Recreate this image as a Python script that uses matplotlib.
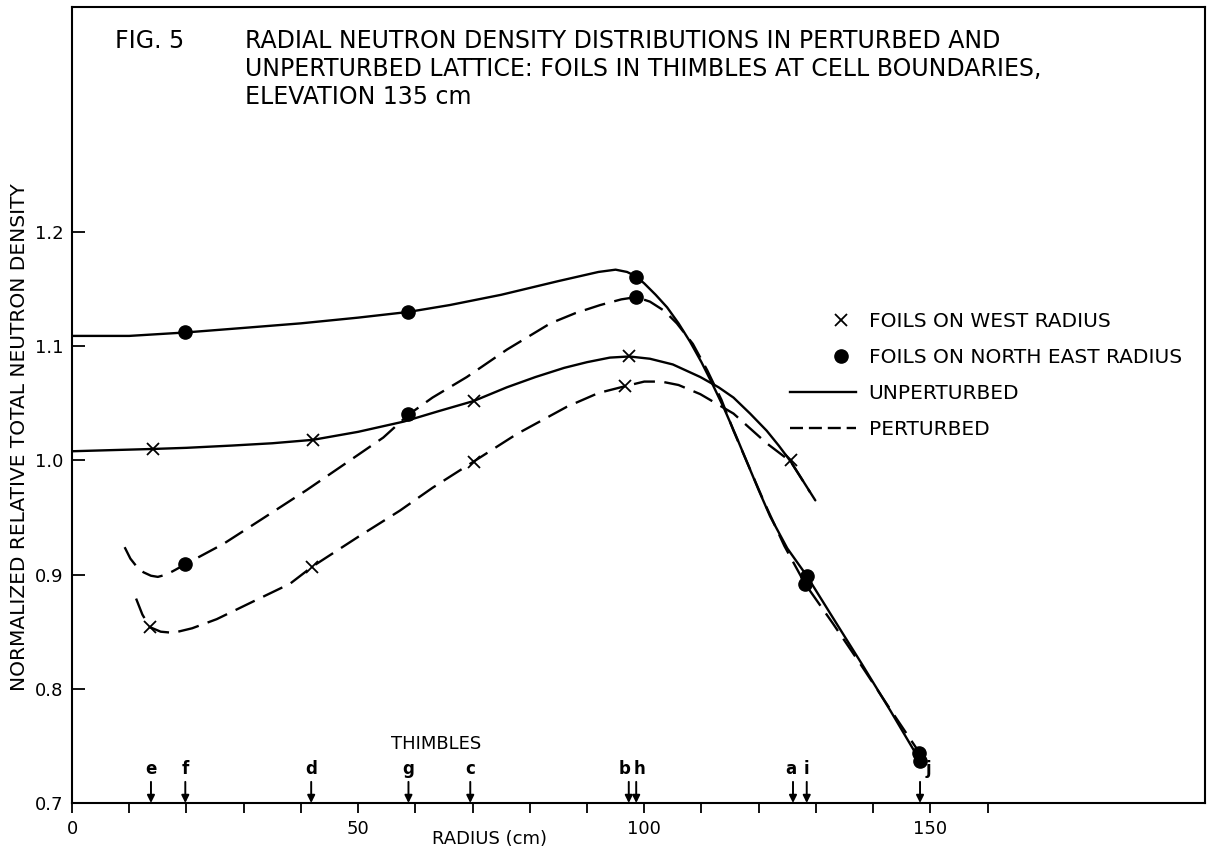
import matplotlib
matplotlib.use("Agg")
import matplotlib.pyplot as plt
from matplotlib.lines import Line2D
from matplotlib.legend_handler import HandlerLine2D

plt.rcParams['font.family'] = ['DejaVu Sans']

# ---------------- data ----------------
# Thimble positions (cm) and labels
thimble_labels = ['e', 'f', 'd', 'g', 'c', 'b', 'h', 'a', 'i', 'j']
thimble_x = [13.8, 19.8, 41.8, 58.8, 69.6, 97.3, 98.6, 126.0, 128.4, 148.2]
thimble_label_dx = [0, 0, 0, 0, 0, -0.8, 0.6, -0.4, 0, 1.4]

# Measured foils: north-east radius (dots)
ne_unpert_x = [19.8, 58.8, 98.6, 128.4, 148.2]
ne_unpert_y = [1.112, 1.130, 1.161, 0.899, 0.737]
ne_pert_x = [19.8, 58.8, 98.6, 128.1, 148.1]
ne_pert_y = [0.909, 1.041, 1.143, 0.892, 0.744]

# Measured foils: west radius (crosses)
w_unpert_x = [14.1, 42.1, 70.2, 97.4, 125.6]
w_unpert_y = [1.010, 1.018, 1.052, 1.091, 1.000]
w_pert_x = [13.6, 42.0, 70.2, 96.7]
w_pert_y = [0.854, 0.907, 0.999, 1.065]

# Hand-drawn curves
c_ne_unpert_x = [0, 10, 19.8, 30, 40, 50, 58.8, 66, 75, 85, 92, 95, 97, 98.6, 100,
                 102, 104, 106, 108, 110, 112, 114, 116, 118, 120, 122, 125, 128.4,
                 133, 138, 143, 148.2]
c_ne_unpert_y = [1.109, 1.109, 1.112, 1.116, 1.120, 1.125, 1.130, 1.136, 1.145, 1.157,
                 1.165, 1.167, 1.165, 1.161, 1.155, 1.145, 1.134, 1.120, 1.104, 1.086,
                 1.066, 1.045, 1.022, 0.998, 0.974, 0.951, 0.923, 0.899,
                 0.862, 0.822, 0.781, 0.737]

c_ne_pert_x = [9.2, 10.2, 11.3, 12.5, 13.8, 15.0, 16.5, 18.0, 19.8, 26.5, 33, 41, 48,
               54.4, 58.8, 63, 69, 76, 83.6, 88, 92.3, 96, 98.6, 101, 103.5, 105.7,
               108.5, 111, 113.5, 115.6, 118, 121, 124.5, 128.1, 133, 138, 143, 148.1]
c_ne_pert_y = [0.924, 0.914, 0.907, 0.902, 0.899, 0.898, 0.900, 0.904, 0.909, 0.927,
               0.948, 0.974, 0.998, 1.020, 1.040, 1.055, 1.073, 1.097, 1.120, 1.129,
               1.136, 1.141, 1.143, 1.139, 1.131, 1.120, 1.102, 1.079, 1.053, 1.026,
               0.998, 0.963, 0.925, 0.892, 0.857, 0.820, 0.782, 0.744]

c_w_unpert_x = [0, 7, 14.1, 20, 28, 35, 42.1, 50, 58, 64, 70.2, 76, 81, 86, 90, 94,
                97.4, 101, 105, 109.8, 113, 115.6, 118.5, 121.4, 123.5, 125.6, 127.5, 129.9]
c_w_unpert_y = [1.008, 1.009, 1.010, 1.011, 1.013, 1.015, 1.018, 1.025, 1.034, 1.043,
                1.052, 1.064, 1.073, 1.081, 1.086, 1.090, 1.091, 1.089, 1.084, 1.073,
                1.064, 1.055, 1.041, 1.026, 1.013, 0.999, 0.984, 0.965]

c_w_pert_x = [11.2, 12.3, 13.6, 15.5, 17.7, 21, 25.3, 32.3, 38.1, 42.0, 50, 57.3, 63,
              70.2, 77.7, 86.5, 92, 96.7, 100, 103, 106, 109.8, 115.6, 121.4, 125.6, 129.0]
c_w_pert_y = [0.879, 0.865, 0.854, 0.850, 0.849, 0.853, 0.861, 0.878, 0.892, 0.907,
              0.933, 0.956, 0.976, 0.999, 1.023, 1.047, 1.059, 1.065, 1.069, 1.069,
              1.066, 1.058, 1.041, 1.015, 0.999, 0.972]

x_ticks_major = [0, 50, 100, 150]
x_ticks_minor = [10, 20, 30, 40, 60, 70, 80, 90, 110, 120, 130, 140, 160]
y_ticks = [0.7, 0.8, 0.9, 1.0, 1.1, 1.2]
y_ticklabels = ['0.7', '0.8', '0.9', '1.0', '1.1', '1.2']

title_lead = 'FIG. 5'
title_lines = ['RADIAL NEUTRON DENSITY DISTRIBUTIONS IN PERTURBED AND',
               'UNPERTURBED LATTICE: FOILS IN THIMBLES AT CELL BOUNDARIES,',
               'ELEVATION 135 cm']
y_label = 'NORMALIZED RELATIVE TOTAL NEUTRON DENSITY'
x_label = 'RADIUS (cm)'
legend_labels = ['FOILS ON WEST RADIUS', 'FOILS ON NORTH EAST RADIUS',
                 'UNPERTURBED', 'PERTURBED']

# ---------------- figure ----------------
W, H = 1209, 847
fig = plt.figure(figsize=(W / 100, H / 100), dpi=100)
ax = fig.add_axes([72 / W, (H - 803) / H, (1205 - 72) / W, (803 - 7) / H])
ax.set_xlim(0, 198)
ax.set_ylim(0.7, 1.397)

lw = 1.7
dash = (0, (9, 4))
ax.plot(c_ne_unpert_x, c_ne_unpert_y, color='k', lw=lw, solid_capstyle='round')
ax.plot(c_w_unpert_x, c_w_unpert_y, color='k', lw=lw, solid_capstyle='round')
ax.plot(c_ne_pert_x, c_ne_pert_y, color='k', lw=lw, linestyle=dash)
ax.plot(c_w_pert_x, c_w_pert_y, color='k', lw=lw, linestyle=dash)

ax.plot(ne_unpert_x, ne_unpert_y, 'o', color='k', ms=9.5)
ax.plot(ne_pert_x, ne_pert_y, 'o', color='k', ms=9.5)
ax.plot(w_unpert_x, w_unpert_y, 'x', color='k', ms=9, mew=1.3)
ax.plot(w_pert_x, w_pert_y, 'x', color='k', ms=9, mew=1.3)

# Thimble arrows
for lab, tx, dx in zip(thimble_labels, thimble_x, thimble_label_dx):
    ax.annotate('', xy=(tx, 0.700), xytext=(tx, 0.7185),
                arrowprops=dict(arrowstyle='-|>', color='k', lw=1.4,
                                mutation_scale=11, shrinkA=0, shrinkB=0))
    ax.text(tx + dx, 0.722, lab, ha='center', va='bottom', fontsize=12,
            fontweight='bold')
ax.text(63.6, 0.752, 'THIMBLES', ha='center', va='center', fontsize=13)

# Axes styling
for s in ax.spines.values():
    s.set_linewidth(1.5)
ax.set_xticks(x_ticks_major)
ax.set_xticklabels([str(v) for v in x_ticks_major], fontsize=13)
ax.set_xticks(x_ticks_minor, minor=True)
ax.tick_params(axis='x', which='both', direction='out', length=7, width=1.3, pad=5)
ax.set_yticks(y_ticks)
ax.set_yticklabels(y_ticklabels, fontsize=13)
ax.tick_params(axis='y', direction='in', length=9, width=1.3, pad=6)

ax.text(73, -0.045, x_label, transform=ax.get_xaxis_transform(),
        ha='center', va='center', fontsize=13)
fig.text(20 / W, 1 - 437 / H, y_label, rotation=90, ha='center', va='center',
         fontsize=14.5)

# Title
fig.text(115 / W, 1 - 41 / H, title_lead, ha='left', va='center', fontsize=17)
for i, line in enumerate(title_lines):
    fig.text(245 / W, 1 - (41 + 28 * i) / H, line, ha='left', va='center',
             fontsize=17)


# Legend (markers placed towards the right of the handle box, as in the original)
class ShiftedMarkerHandler(HandlerLine2D):
    def get_xdata(self, legend, xdescent, ydescent, width, height, fontsize):
        xdata, xdata_marker = super().get_xdata(legend, xdescent, ydescent,
                                                width, height, fontsize)
        shift = 0.26 * width
        return ([x + shift for x in xdata], [x + shift for x in xdata_marker])


h_west = Line2D([], [], color='k', marker='x', ls='none', ms=9, mew=1.3)
h_ne = Line2D([], [], color='k', marker='o', ls='none', ms=9.5)
h_unp = Line2D([], [], color='k', lw=lw)
h_per = Line2D([], [], color='k', lw=lw, linestyle=(0, (5.5, 2.5)))
leg = ax.legend([h_west, h_ne, h_unp, h_per], legend_labels, loc='upper left',
                bbox_to_anchor=((790 - 72) / (1205 - 72), (803 - 312) / 796),
                frameon=False, fontsize=14.5, handlelength=3.3, handletextpad=0.6,
                labelspacing=0.85, borderpad=0, borderaxespad=0,
                handler_map={h_west: ShiftedMarkerHandler(numpoints=1),
                             h_ne: ShiftedMarkerHandler(numpoints=1)})

fig.savefig('out.png', dpi=100)
